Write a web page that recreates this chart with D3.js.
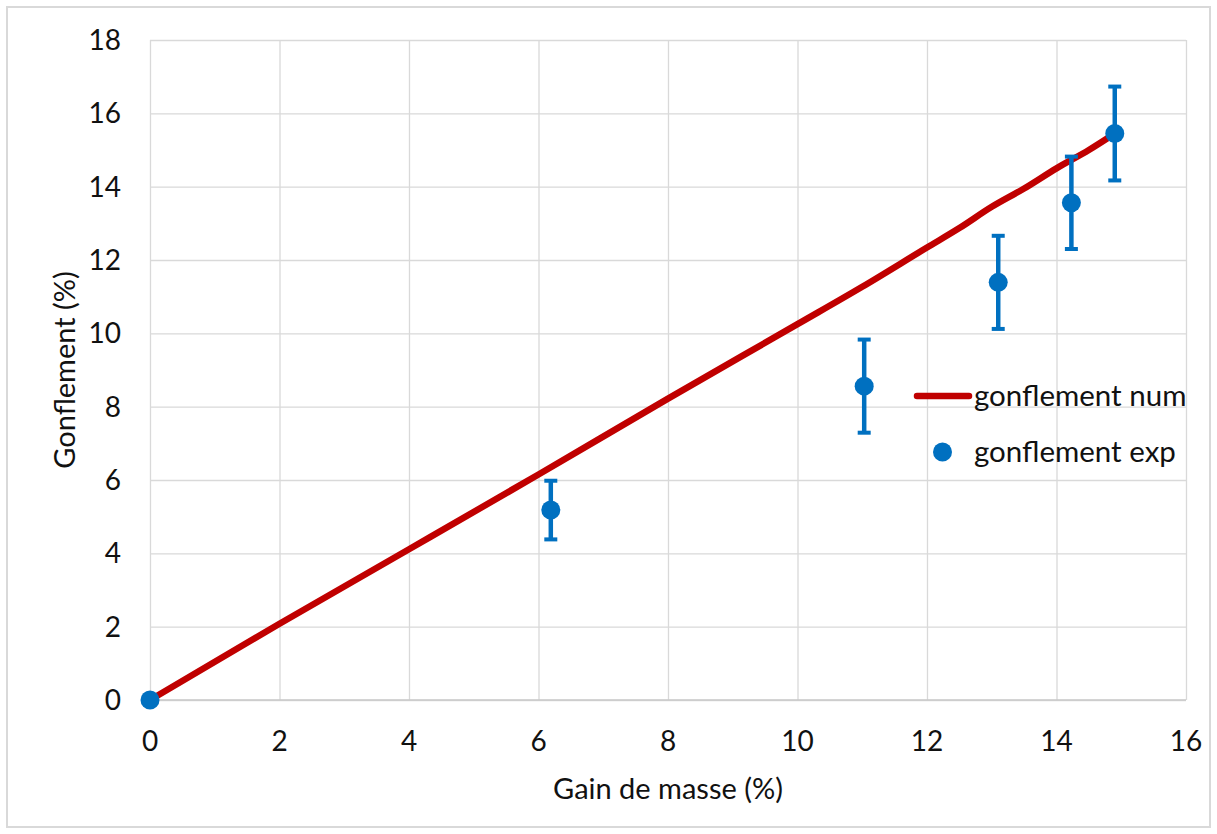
<!DOCTYPE html>
<html><head><meta charset="utf-8">
<script src="https://cdn.jsdelivr.net/npm/d3@7"></script>
<style>body{margin:0;background:#fff}svg{display:block}text{font-family:Lato,"Open Sans",sans-serif;fill:#111}</style>
</head><body>
<svg id="c" width="1217" height="834"></svg>
<script>
// numerical curve (gonflement num)
const numX = [0, 2, 4, 6, 8, 10, 11, 12, 12.5, 13, 13.5, 14, 14.5, 14.9];
const numY = [0, 2.08, 4.11, 6.15, 8.22, 10.25, 11.27, 12.34, 12.87, 13.45, 13.95, 14.5, 15.0, 15.45];
// experimental points (gonflement exp)
const expX = [0, 6.19, 11.03, 13.1, 14.23, 14.9];
const expY = [0, 5.18, 8.56, 11.39, 13.56, 15.45];
const expErr = [0, 0.8, 1.27, 1.27, 1.26, 1.28];
const xTicks = [0, 2, 4, 6, 8, 10, 12, 14, 16];
const yTicks = [0, 2, 4, 6, 8, 10, 12, 14, 16, 18];
const legendLabels = ["gonflement num", "gonflement exp"];

const svg = d3.select("#c");
const L = 150, R = 1186, T = 40, B = 700;
const x = d3.scaleLinear().domain([0, 16]).range([L, R]);
const y = d3.scaleLinear().domain([0, 18]).range([B, T]);

svg.append("rect").attr("x", 7).attr("y", 7).attr("width", 1203).attr("height", 820)
  .attr("fill", "#fff").attr("stroke", "#d9d9d9").attr("stroke-width", 2);

// grid
const gx = svg.append("g").attr("transform", `translate(0,${B})`)
  .call(d3.axisBottom(x).tickValues(xTicks).tickSize(-(B - T)).tickFormat(""));
gx.select(".domain").remove();
gx.selectAll("line").attr("stroke", "#d9d9d9").attr("stroke-width", 1.3);
const gy = svg.append("g").attr("transform", `translate(${L},0)`)
  .call(d3.axisLeft(y).tickValues(yTicks).tickSize(-(R - L)).tickFormat(""));
gy.select(".domain").remove();
gy.selectAll("line").attr("stroke", "#d9d9d9").attr("stroke-width", 1.3);
svg.append("line").attr("x1", L).attr("x2", R).attr("y1", B).attr("y2", B)
  .attr("stroke", "#c8c8c8").attr("stroke-width", 1.5);

// tick labels
svg.append("g").selectAll("text").data(xTicks).join("text")
  .attr("x", d => x(d)).attr("y", 751).attr("text-anchor", "middle")
  .attr("font-size", 28).text(d => d);
svg.append("g").selectAll("text").data(yTicks).join("text")
  .attr("x", 121).attr("y", d => y(d) + 10).attr("text-anchor", "end")
  .attr("font-size", 28).text(d => d);

// axis titles
svg.append("text").attr("x", 668).attr("y", 799).attr("text-anchor", "middle")
  .attr("font-size", 29).text("Gain de masse (%)");
svg.append("text").attr("transform", "translate(75,370) rotate(-90)")
  .attr("text-anchor", "middle").attr("font-size", 29).text("Gonflement (%)");

// num line
const line = d3.line().curve(d3.curveMonotoneX).x((d, i) => x(numX[i])).y((d, i) => y(numY[i]));
svg.append("path").datum(numX).attr("d", line).attr("fill", "none")
  .attr("stroke", "#c00000").attr("stroke-width", 6.5).attr("stroke-linecap", "round");

// error bars
const eb = svg.append("g").attr("stroke", "#0070c0");
expX.forEach((xv, i) => {
  if (!expErr[i]) return;
  const top = y(expY[i] + expErr[i]), bot = y(expY[i] - expErr[i]);
  eb.append("line").attr("x1", x(xv)).attr("x2", x(xv)).attr("y1", top).attr("y2", bot).attr("stroke-width", 4.5);
  [top, bot].forEach(yy => eb.append("line").attr("x1", x(xv) - 6.5).attr("x2", x(xv) + 6.5)
    .attr("y1", yy).attr("y2", yy).attr("stroke-width", 4));
});
// points
svg.append("g").selectAll("circle").data(expX).join("circle")
  .attr("cx", d => x(d)).attr("cy", (d, i) => y(expY[i])).attr("r", 9.5).attr("fill", "#0070c0");

// legend
svg.append("line").attr("x1", 917).attr("x2", 969).attr("y1", 396).attr("y2", 396)
  .attr("stroke", "#c00000").attr("stroke-width", 6.5).attr("stroke-linecap", "round");
svg.append("circle").attr("cx", 942.5).attr("cy", 452).attr("r", 9.5).attr("fill", "#0070c0");
svg.append("text").attr("x", 974).attr("y", 406).attr("font-size", 29.5).text(legendLabels[0]);
svg.append("text").attr("x", 974).attr("y", 462).attr("font-size", 29.5).text(legendLabels[1]);
</script>
</body></html>
